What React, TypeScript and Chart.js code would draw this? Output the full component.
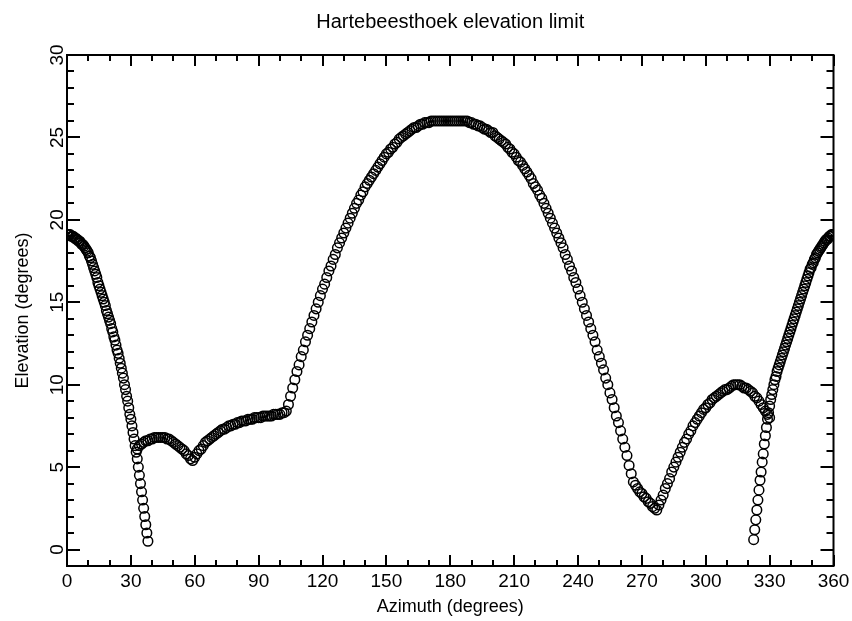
import React, { useEffect, useRef } from "react";
import { Chart, registerables } from "chart.js";

Chart.register(...registerables);

const TITLE = "Hartebeesthoek elevation limit";
const X_TITLE = "Azimuth (degrees)";
const Y_TITLE = "Elevation (degrees)";

const X_MIN = 0;
const X_MAX = 360;
const Y_MIN = -1;
const Y_MAX = 30;
const X_MINOR_STEP = 10;
const Y_MINOR_STEP = 1;

const xTickValues = [0, 30, 60, 90, 120, 150, 180, 210, 240, 270, 300, 330, 360];
const xTickLabels = ["0", "30", "60", "90", "120", "150", "180", "210", "240", "270", "300", "330", "360"];
const yTickValues = [0, 5, 10, 15, 20, 25, 30];
const yTickLabels = ["0", "5", "10", "15", "20", "25", "30"];

// Northern edge, 0° .. 38° in half-degree steps
const westStart = 0;
const westStep = 0.5;
const westElevation = [
  19.1, 19.1, 19.1, 19.1, 19.0, 19.0, 19.0, 18.9, 18.9, 18.8,
  18.8, 18.7, 18.7, 18.6, 18.5, 18.5, 18.4, 18.3, 18.2, 18.1,
  18.0, 17.8, 17.7, 17.5, 17.3, 17.1, 16.9, 16.7, 16.5, 16.2,
  16.0, 15.8, 15.6, 15.4, 15.2, 15.0, 14.8, 14.5, 14.3, 14.1,
  13.9, 13.7, 13.4, 13.2, 12.9, 12.7, 12.4, 12.1, 11.9, 11.6,
  11.3, 11.0, 10.7, 10.4, 10.0, 9.7, 9.3, 9.0, 8.6, 8.2,
  7.9, 7.5, 7.1, 6.7, 6.3, 5.9, 5.5, 5.0, 4.5, 4.0,
  3.5, 3.0, 2.5, 2.0, 1.5, 1.0, 0.5,
];

// Low shelf, 33° .. 103° in one-degree steps
const shelfStart = 33;
const shelfStep = 1;
const shelfElevation = [
  6.1, 6.3, 6.4, 6.5, 6.6, 6.6, 6.7, 6.7, 6.8, 6.8,
  6.8, 6.8, 6.8, 6.8, 6.7, 6.7, 6.6, 6.5, 6.4, 6.3,
  6.2, 6.1, 6.0, 5.8, 5.7, 5.5, 5.4, 5.6, 5.8, 6.0,
  6.1, 6.3, 6.5, 6.6, 6.7, 6.8, 6.9, 7.0, 7.1, 7.2,
  7.3, 7.3, 7.4, 7.5, 7.5, 7.6, 7.6, 7.7, 7.7, 7.8,
  7.8, 7.8, 7.9, 7.9, 7.9, 8.0, 8.0, 8.0, 8.0, 8.1,
  8.1, 8.1, 8.1, 8.1, 8.2, 8.2, 8.2, 8.2, 8.3, 8.3,
  8.4,
];

// Southern arch and the eastern bump, 104° .. 330° in one-degree steps
const archStart = 104;
const archStep = 1;
const archElevation = [
  8.8, 9.3, 9.8, 10.3, 10.8, 11.2, 11.7, 12.1, 12.6, 13.0,
  13.4, 13.8, 14.2, 14.6, 15.0, 15.4, 15.8, 16.1, 16.5, 16.9,
  17.2, 17.6, 17.9, 18.3, 18.6, 18.9, 19.2, 19.5, 19.8, 20.1,
  20.4, 20.7, 21.0, 21.2, 21.5, 21.7, 22.0, 22.2, 22.4, 22.6,
  22.8, 23.0, 23.2, 23.4, 23.6, 23.8, 24.0, 24.1, 24.3, 24.4,
  24.6, 24.7, 24.9, 25.0, 25.1, 25.2, 25.3, 25.4, 25.5, 25.6,
  25.6, 25.7, 25.8, 25.8, 25.9, 25.9, 25.9, 26.0, 26.0, 26.0,
  26.0, 26.0, 26.0, 26.0, 26.0, 26.0, 26.0, 26.0, 26.0, 26.0,
  26.0, 26.0, 26.0, 26.0, 26.0, 25.9, 25.9, 25.8, 25.8, 25.7,
  25.7, 25.6, 25.5, 25.5, 25.4, 25.3, 25.3, 25.1, 25.0, 24.9,
  24.8, 24.7, 24.6, 24.4, 24.3, 24.1, 24.0, 23.8, 23.6, 23.5,
  23.3, 23.1, 22.9, 22.7, 22.5, 22.2, 22.0, 21.8, 21.5, 21.3,
  21.0, 20.7, 20.4, 20.1, 19.8, 19.5, 19.2, 18.9, 18.6, 18.3,
  17.9, 17.6, 17.2, 16.9, 16.5, 16.2, 15.8, 15.4, 15.0, 14.6,
  14.2, 13.8, 13.4, 13.0, 12.6, 12.1, 11.7, 11.3, 10.9, 10.4,
  10.0, 9.5, 9.1, 8.6, 8.1, 7.7, 7.2, 6.7, 6.2, 5.7,
  5.1, 4.6, 4.1, 3.9, 3.7, 3.5, 3.4, 3.2, 3.1, 2.9,
  2.8, 2.6, 2.5, 2.4, 2.7, 3.0, 3.3, 3.7, 4.0, 4.3,
  4.7, 5.0, 5.3, 5.6, 5.9, 6.2, 6.5, 6.7, 7.0, 7.2,
  7.5, 7.7, 7.9, 8.1, 8.3, 8.5, 8.6, 8.8, 8.9, 9.1,
  9.2, 9.3, 9.4, 9.5, 9.6, 9.7, 9.7, 9.8, 9.9, 10.0,
  10.0, 10.0, 10.0, 9.9, 9.8, 9.8, 9.7, 9.6, 9.5, 9.3,
  9.2, 9.0, 8.8, 8.6, 8.4, 8.2, 8.0,
];

// North-western edge, 322.5° .. 360° in half-degree steps
const eastStart = 322.5;
const eastStep = 0.5;
const eastElevation = [
  0.6, 1.2, 1.8, 2.4, 3.0, 3.6, 4.2, 4.7, 5.3, 5.8,
  6.4, 6.9, 7.4, 7.9, 8.3, 8.7, 9.1, 9.4, 9.7, 10.0,
  10.3, 10.5, 10.8, 11.0, 11.2, 11.4, 11.6, 11.8, 12.0, 12.2,
  12.4, 12.6, 12.8, 13.0, 13.2, 13.4, 13.6, 13.8, 14.0, 14.2,
  14.4, 14.6, 14.8, 15.0, 15.2, 15.4, 15.6, 15.8, 16.0, 16.2,
  16.4, 16.6, 16.8, 17.0, 17.1, 17.3, 17.4, 17.6, 17.7, 17.9,
  18.0, 18.1, 18.2, 18.3, 18.4, 18.5, 18.6, 18.7, 18.8, 18.8,
  18.9, 19.0, 19.0, 19.1, 19.1, 19.1,
];

const FONT = "'Liberation Sans', Arial, Helvetica, sans-serif";

function toPoints(start: number, step: number, values: number[]) {
  return values.map((y, i) => ({ x: start + i * step, y }));
}

// Boxed axes with inward ticks on all four sides, rotated y labels and titles.
const framePlugin = {
  id: "boxFrame",
  afterDatasetsDraw(chart: any) {
    const { ctx, chartArea: a, scales } = chart;
    const xs = scales.x;
    const ys = scales.y;
    ctx.save();
    ctx.strokeStyle = "#000";
    ctx.fillStyle = "#000";
    ctx.lineWidth = 2;
    ctx.lineCap = "butt";

    const seg = (x1: number, y1: number, x2: number, y2: number) => {
      ctx.beginPath();
      ctx.moveTo(x1, y1);
      ctx.lineTo(x2, y2);
      ctx.stroke();
    };

    // frame
    ctx.strokeRect(a.left, a.top, a.right - a.left, a.bottom - a.top);

    // x ticks (bottom and top, pointing inward)
    for (let v = X_MIN; v <= X_MAX; v += X_MINOR_STEP) {
      const px = Math.round(xs.getPixelForValue(v));
      const len = xTickValues.includes(v) ? 11 : 6;
      seg(px, a.bottom, px, a.bottom - len);
      seg(px, a.top, px, a.top + len);
    }
    // y ticks (left and right, pointing inward)
    for (let v = 0; v <= Y_MAX; v += Y_MINOR_STEP) {
      const py = Math.round(ys.getPixelForValue(v));
      const len = yTickValues.includes(v) ? 13 : 7;
      seg(a.left, py, a.left + len, py);
      seg(a.right, py, a.right - len, py);
    }

    // x tick labels
    ctx.font = `19px ${FONT}`;
    ctx.textAlign = "center";
    ctx.textBaseline = "alphabetic";
    xTickValues.forEach((v, i) => {
      ctx.fillText(xTickLabels[i], xs.getPixelForValue(v), a.bottom + 21);
    });

    // y tick labels, rotated to read upward
    yTickValues.forEach((v, i) => {
      ctx.save();
      ctx.translate(a.left - 4.5, ys.getPixelForValue(v));
      ctx.rotate(-Math.PI / 2);
      ctx.fillText(yTickLabels[i], 0, 0);
      ctx.restore();
    });

    // axis titles
    ctx.font = `18px ${FONT}`;
    ctx.fillText(X_TITLE, (a.left + a.right) / 2, a.bottom + 46);
    ctx.save();
    ctx.translate(a.left - 39, (a.top + a.bottom) / 2);
    ctx.rotate(-Math.PI / 2);
    ctx.fillText(Y_TITLE, 0, 0);
    ctx.restore();

    // chart title
    ctx.font = `20px ${FONT}`;
    ctx.fillText(TITLE, (a.left + a.right) / 2, 28);

    ctx.restore();
  },
};

export default function App() {
  const canvasRef = useRef<HTMLCanvasElement | null>(null);

  useEffect(() => {
    const canvas = canvasRef.current;
    if (!canvas) return;

    const markerStyle = {
      showLine: false,
      pointStyle: "circle" as const,
      pointRadius: 4.8,
      pointBorderWidth: 1.5,
      pointBorderColor: "#000",
      pointBackgroundColor: "rgba(0,0,0,0)",
      clip: 0,
    };

    const chart = new Chart(canvas, {
      type: "scatter",
      data: {
        datasets: [
          { label: "west", data: toPoints(westStart, westStep, westElevation), ...markerStyle },
          { label: "shelf", data: toPoints(shelfStart, shelfStep, shelfElevation), ...markerStyle },
          { label: "arch", data: toPoints(archStart, archStep, archElevation), ...markerStyle },
          { label: "east", data: toPoints(eastStart, eastStep, eastElevation), ...markerStyle },
        ],
      },
      options: {
        responsive: false,
        animation: false,
        devicePixelRatio: 1,
        layout: { padding: { left: 67, top: 55, right: 18.5, bottom: 55 } },
        plugins: {
          legend: { display: false },
          tooltip: { enabled: false },
          title: { display: false },
        },
        scales: {
          x: { type: "linear", min: X_MIN, max: X_MAX, display: false },
          y: { type: "linear", min: Y_MIN, max: Y_MAX, display: false },
        },
      },
      plugins: [framePlugin],
    });

    return () => chart.destroy();
  }, []);

  return (
    <div style={{ position: "absolute", left: 0, top: 0, width: 852, height: 621, background: "#fff" }}>
      <canvas ref={canvasRef} width={852} height={621} style={{ display: "block" }} />
    </div>
  );
}
